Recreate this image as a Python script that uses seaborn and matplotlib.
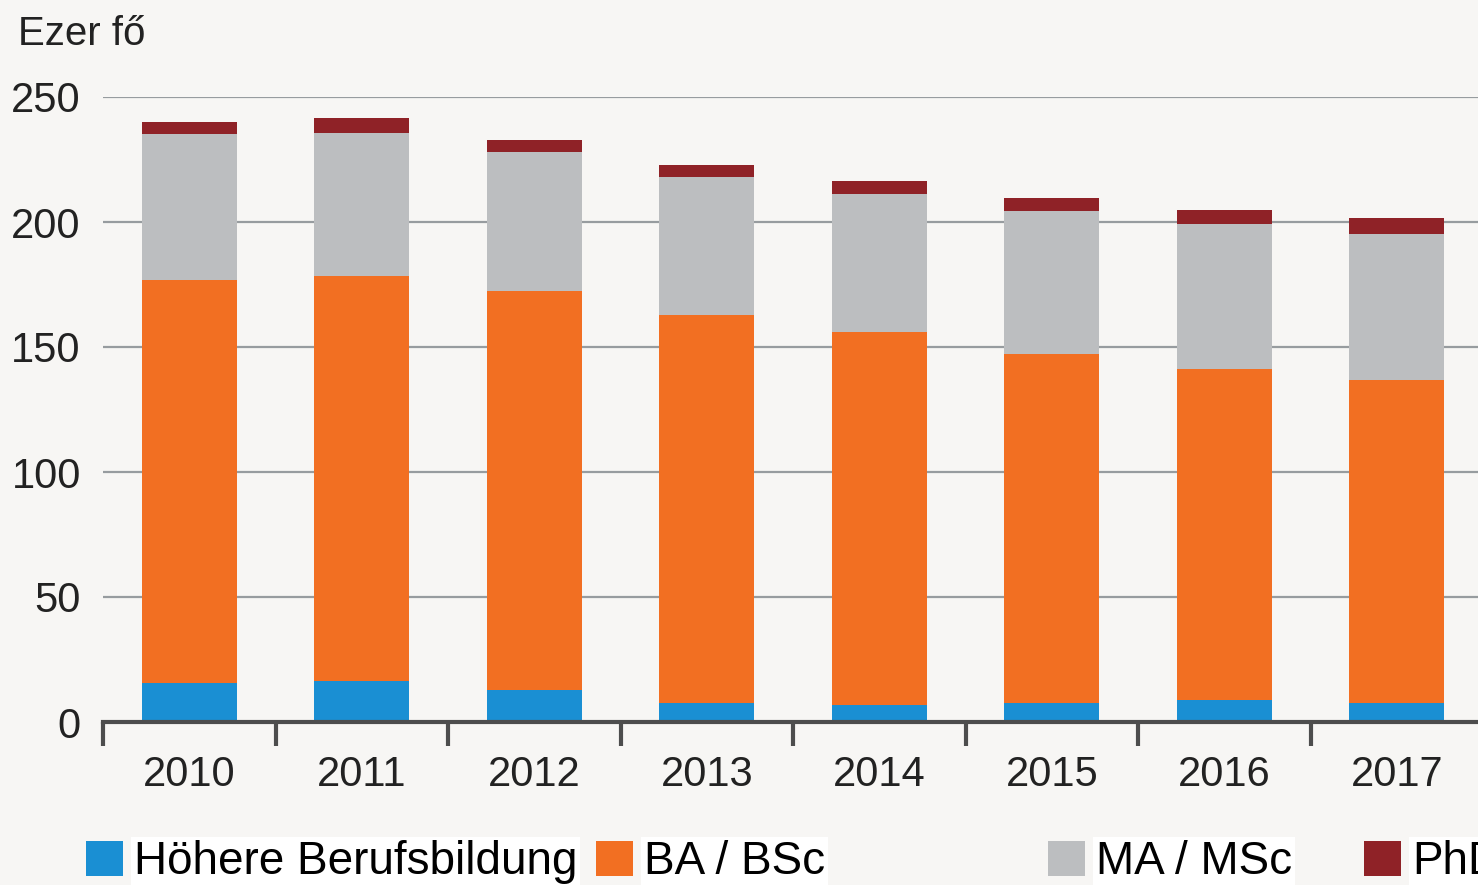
import numpy as np
import pandas as pd
import matplotlib
matplotlib.use("Agg")
import matplotlib.pyplot as plt
from matplotlib.patches import Patch
from matplotlib.ticker import FixedLocator
import seaborn as sns

# ── Data (ezer fő) ───────────────────────────────────────
years = ["2010", "2011", "2012", "2013", "2014", "2015", "2016", "2017"]
hohere = [15.6, 16.4, 12.8, 7.6, 6.8, 7.6, 8.8, 7.6]
ba_bsc = [161.2, 162.0, 159.6, 155.2, 149.2, 139.6, 132.4, 129.2]
ma_msc = [58.4, 57.2, 55.6, 55.2, 55.2, 57.2, 58.0, 58.4]
phd = [4.8, 6.0, 4.8, 4.8, 5.2, 5.2, 5.6, 6.4]
series_labels = ["Höhere Berufsbildung", "BA / BSc", "MA / MSc", "PhD"]
y_ticks = [0, 50, 100, 150, 200, 250]

COLORS = ["#1a8fd3", "#f26f22", "#bcbec0", "#8f2227"]
BG = "#f7f6f4"
FONT = ["Liberation Sans", "DejaVu Sans"]

sns.set_theme(style="white")
plt.rcParams["font.family"] = FONT

df = pd.DataFrame({"year": years, "h": hohere, "ba": ba_bsc, "ma": ma_msc, "phd": phd})
stack = df[["h", "ba", "ma", "phd"]].cumsum(axis=1)

fig = plt.figure(figsize=(14.78, 8.85), dpi=100, facecolor=BG)
ax = fig.add_axes([103 / 1478, 1 - 722 / 885, 1380 / 1478, 625 / 885])
ax.set_facecolor(BG)

# gridlines behind bars
for v in y_ticks[1:]:
    ax.axhline(v, color="#979c9f", lw=1.6, zorder=0)

# stacked bars: draw cumulative totals from top layer down
for col, color in zip(["phd", "ma", "ba", "h"], COLORS[::-1]):
    sns.barplot(x=df["year"], y=stack[col], color=color, saturation=1,
                width=0.55, linewidth=0, errorbar=None, ax=ax, zorder=2)

ax.set_xlim(-0.5, len(years) - 0.5)
ax.set_ylim(0, 250)
ax.set_xlabel("")
ax.set_ylabel("")

for s in ["top", "right", "left"]:
    ax.spines[s].set_visible(False)
ax.spines["bottom"].set_color("#4d4d4d")
ax.spines["bottom"].set_linewidth(3)
ax.spines["bottom"].set_zorder(3)

ax.set_yticks(y_ticks)
ax.tick_params(axis="y", left=False, length=0, pad=16, labelsize=30, labelcolor="#222222")
ax.xaxis.set_minor_locator(FixedLocator(np.arange(-0.5, len(years), 1.0)))
ax.tick_params(axis="x", which="minor", bottom=True, length=17, width=3,
               color="#4d4d4d", direction="out")
ax.tick_params(axis="x", which="major", bottom=True, length=0, pad=24,
               labelsize=30, labelcolor="#222222")

fig.text(18 / 1478, 1 - 45 / 885, "Ezer fő", fontsize=29, color="#222222",
         va="baseline", ha="left")

# legend, one entry per slot
leg_x = [86, 596, 1048, 1364]
for lbl, color, x in zip(series_labels, COLORS, leg_x):
    leg = fig.legend(handles=[Patch(facecolor=color, edgecolor="none")], labels=[lbl],
                     loc="center left", bbox_to_anchor=(x / 1478, 1 - 862 / 885),
                     frameon=False, handlelength=0.8, handleheight=0.8,
                     handletextpad=0.25, borderpad=0, borderaxespad=0,
                     prop={"family": FONT, "size": 33})
    for t in leg.get_texts():
        t.set_color("black")
        t.set_bbox(dict(facecolor="white", edgecolor="none", pad=2))

fig.savefig("out.png", dpi=100, facecolor=BG)
